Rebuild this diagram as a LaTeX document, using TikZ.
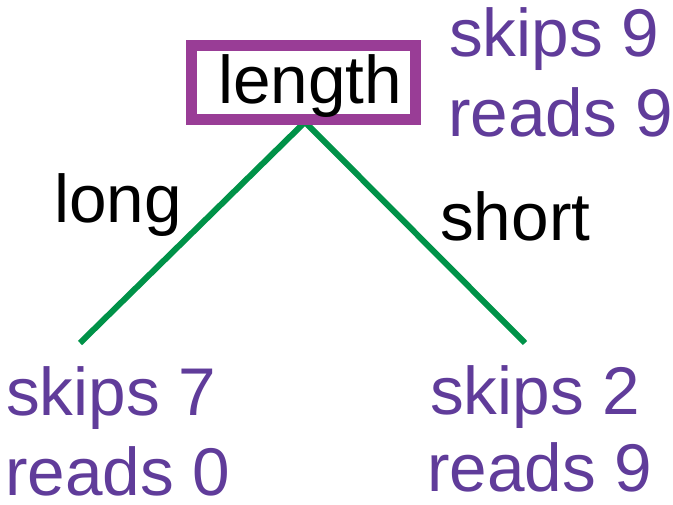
\documentclass[tikz,border=0pt]{standalone}
\usepackage{fontspec}
\setmainfont{Liberation Sans}
\definecolor{boxpurple}{RGB}{153,61,150}
\definecolor{txtpurple}{RGB}{96,60,154}
\definecolor{edgegreen}{RGB}{0,146,72}
\begin{document}
\begin{tikzpicture}[x=1pt,y=-1pt,
  lbl/.style={anchor=base west,inner sep=0pt,font=\fontsize{67.5}{67.5}\selectfont},
  stat/.style={lbl,text=txtpurple},
  edge/.style={draw=edgegreen,line width=6pt}]
\useasboundingbox (0,0) rectangle (673,505);
\coordinate (apex) at (305,122);
\coordinate (leftend) at (80,343);
\coordinate (rightend) at (525,343);
\draw[edge] (apex) -- (leftend);
\draw[edge] (apex) -- (rightend);
\node[draw=boxpurple,line width=11pt,fill=white,minimum width=224pt,minimum height=74pt,inner sep=0pt] (root) at (303,83) {};
\node[lbl] (rootlabel) at (218,104) {length};
\node[stat] (s9) at (449,57) {skips 9};
\node[stat] (r9) at (448,137) {reads 9};
\node[lbl] (long) at (54,223) {long};
\node[lbl] (short) at (440,241) {short};
\node[stat] (s7) at (6,416) {skips 7};
\node[stat] (r0) at (5,495) {reads 0};
\node[stat] (s2) at (430,415) {skips 2};
\node[stat] (r9b) at (427,491) {reads 9};
\end{tikzpicture}
\end{document}
